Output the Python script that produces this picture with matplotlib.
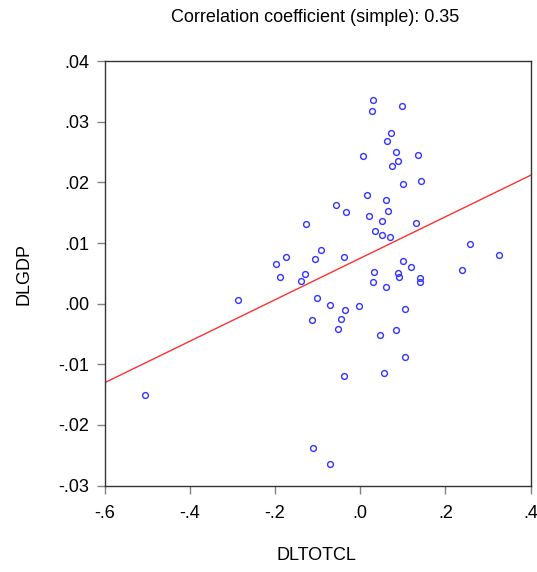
import matplotlib
matplotlib.use("Agg")
import matplotlib.pyplot as plt
import numpy as np
from matplotlib.ticker import FuncFormatter

plt.rcParams['font.family'] = ['Liberation Sans', 'DejaVu Sans']

dltotcl = [0.029, 0.0275, 0.098, 0.072, 0.0634, 0.007, 0.0845, 0.0885, 0.075, 0.1347,
           0.0995, 0.1418, 0.015, 0.0603, -0.057, -0.033, 0.0197, 0.0657, 0.0517, 0.130,
           -0.1275, 0.0345, 0.0517, 0.069, 0.2568, -0.0915, -0.175, -0.0383, -0.1063, 0.3256,
           -0.198, 0.0995, 0.1183, 0.238, 0.0315, 0.0885, 0.090, -0.1298, -0.1892, -0.1385,
           0.140, 0.140, 0.0305, 0.0596, -0.2878, -0.1024, -0.071, -0.003, -0.036, 0.1057,
           -0.1127, -0.0446, -0.0516, 0.0845, 0.0455, 0.1057, -0.0383, 0.0557, -0.5054, -0.1103,
           -0.0718]
dlgdp = [0.0336, 0.0318, 0.0326, 0.0282, 0.0268, 0.0243, 0.0251, 0.0235, 0.0227, 0.02445,
         0.0198, 0.0202, 0.0180, 0.0171, 0.0163, 0.01505, 0.01455, 0.01532, 0.01367, 0.01334,
         0.01317, 0.01197, 0.01136, 0.01103, 0.00987, 0.00889, 0.00768, 0.00773, 0.00740, 0.0080,
         0.00653, 0.00713, 0.0060, 0.00549, 0.00526, 0.0050, 0.00433, 0.00483, 0.00438, 0.00383,
         0.00427, 0.00351, 0.00356, 0.00268, 0.00059, 0.00087, -0.0002, -0.00045, -0.0010, -0.00095,
         -0.00276, -0.00254, -0.00424, -0.00436, -0.00518, -0.00881, -0.0119, -0.01145, -0.01513, -0.02382,
         -0.02646]

fit_intercept = 0.0075
fit_slope = 0.0342

x_ticks = [-0.6, -0.4, -0.2, 0.0, 0.2, 0.4]
y_ticks = [-0.03, -0.02, -0.01, 0.00, 0.01, 0.02, 0.03, 0.04]

W, H = 537, 572
fig = plt.figure(figsize=(W / 100, H / 100), dpi=100)
ax = fig.add_axes([0.195, 0.151, 0.793, 0.742])

ax.plot(dltotcl, dlgdp, linestyle='none', marker='o', ms=4.2, mfc='none',
        mec='#3333ff', mew=1.0)
xl = np.array([-0.6, 0.4])
ax.plot(xl, fit_intercept + fit_slope * xl, color='#ff3030', lw=1.0)

ax.set_xlim(-0.6, 0.4)
ax.set_ylim(-0.03, 0.04)
ax.set_xticks(x_ticks)
ax.set_yticks(y_ticks)

ax.xaxis.set_major_formatter(FuncFormatter(lambda v, p: (f"{v:.1f}").replace("-0.", "-.").replace("0.", ".")))
ax.yaxis.set_major_formatter(FuncFormatter(lambda v, p: (f"{v:.2f}").replace("-0.", "-.").replace("0.", ".")))

fs = 13
ax.tick_params(direction='out', length=6, width=1, color='#808080', labelsize=fs,
               labelcolor='black')
ax.tick_params(axis='x', pad=8)
ax.tick_params(axis='y', pad=5)
for sp in ax.spines.values():
    sp.set_color('#333333')
    sp.set_linewidth(1.0)

fig.text(315 / W, 1 - 18 / H, 'Correlation coefficient (simple): 0.35', fontsize=fs,
         ha='center', va='center')
fig.text(316 / W, 1 - 555 / H, 'DLTOTCL', fontsize=fs, ha='center', va='center')
fig.text(24 / W, 1 - 274 / H, 'DLGDP', fontsize=fs, ha='center', va='center', rotation=90)

fig.savefig('out.png', dpi=100, facecolor='white')
